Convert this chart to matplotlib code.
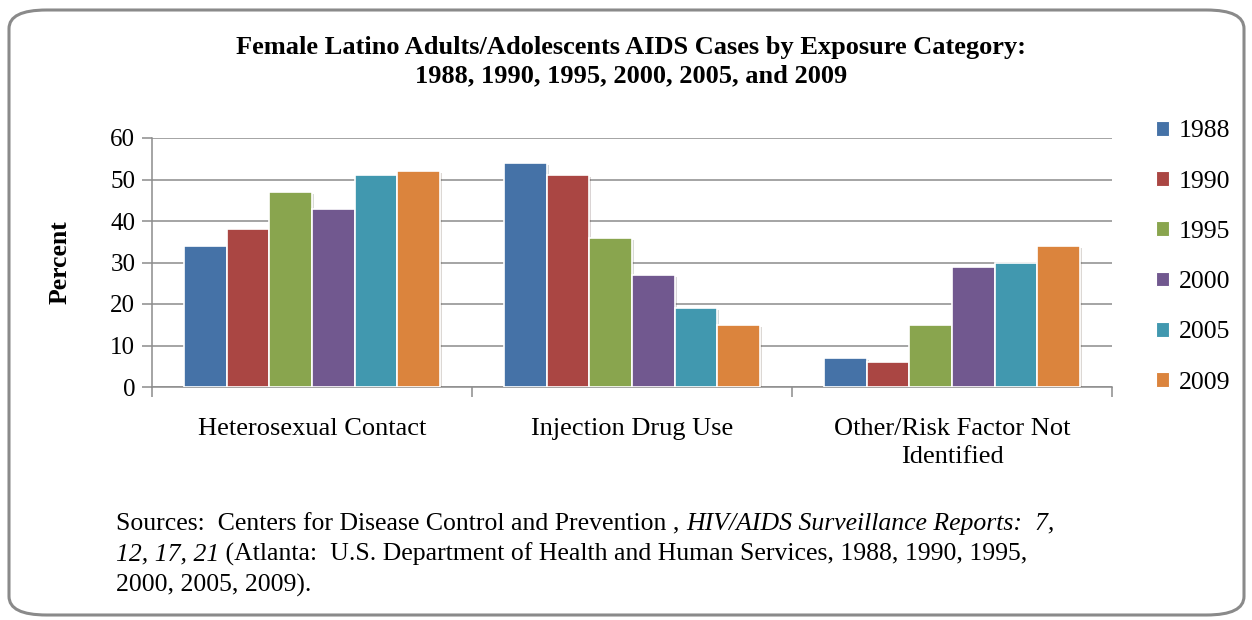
import matplotlib
matplotlib.use("Agg")
import matplotlib.pyplot as plt
import numpy as np
from matplotlib.patches import FancyBboxPatch, Patch
import matplotlib.patheffects as pe

categories = ["Heterosexual Contact", "Injection Drug Use", "Other/Risk Factor Not\nIdentified"]
years = ["1988", "1990", "1995", "2000", "2005", "2009"]
v1988 = [34, 54, 7]
v1990 = [38, 51, 6]
v1995 = [47, 36, 15]
v2000 = [43, 27, 29]
v2005 = [51, 19, 30]
v2009 = [52, 15, 34]
series = [v1988, v1990, v1995, v2000, v2005, v2009]
colors = ["#4572A7", "#AA4643", "#89A54E", "#71588F", "#4198AF", "#DB843D"]
yticks = [0, 10, 20, 30, 40, 50, 60]

plt.rcParams['font.family'] = ['Liberation Serif', 'DejaVu Serif']

W, H = 1252, 620
fig = plt.figure(figsize=(W / 100, H / 100), dpi=100)

# rounded border
border = FancyBboxPatch((9 / W, 5 / H), (1244 - 9) / W, (H - 10 - 5) / H,
                        boxstyle="round,pad=0,rounding_size=0.03",
                        transform=fig.transFigure, facecolor="white",
                        edgecolor="#8a8a8a", linewidth=2.2, zorder=-5)
fig.patches.append(border)

ax = fig.add_axes([152 / W, 1 - 387 / H, (1112 - 152) / W, (387 - 138) / H])
ax.set_facecolor("none")
ax.set_zorder(2)

n = len(series)
gap = 1.5
bw = 1.0 / (n + gap)
x = np.arange(len(categories))
for i, (vals, c, yr) in enumerate(zip(series, colors, years)):
    pos = x - 0.5 + bw * (gap / 2) + bw * (i + 0.5)
    ax.bar(pos, vals, width=bw, color=c, edgecolor="white", linewidth=1.2,
           zorder=3,
           path_effects=[pe.SimplePatchShadow(offset=(1.5, -1.5), alpha=0.18), pe.Normal()])

ax.set_xlim(-0.5, len(categories) - 0.5)
ax.set_ylim(0, 60)
ax.set_yticks(yticks)
ax.set_yticklabels([str(t) for t in yticks], fontsize=18)
ax.yaxis.grid(True, color="#8c8c8c", linewidth=1.1, zorder=0)
ax.set_axisbelow(True)

ax.set_xticks(np.arange(len(categories) + 1) - 0.5)
ax.set_xticklabels([])
ax.set_xticks(x, minor=True)
ax.set_xticklabels(categories, minor=True, fontsize=19, linespacing=1.38)
ax.tick_params(axis="x", which="major", length=7, width=1.1, color="#8c8c8c", direction="out")
ax.tick_params(axis="x", which="minor", length=0, pad=22)
ax.tick_params(axis="y", length=7, width=1.1, color="#8c8c8c", direction="out", pad=5)

for s in ["top", "right"]:
    ax.spines[s].set_visible(False)
for s in ["left", "bottom"]:
    ax.spines[s].set_color("#8c8c8c")
    ax.spines[s].set_linewidth(1.1)

ax.set_ylabel("Percent", fontsize=18.5, fontweight="bold")
ax.yaxis.set_label_coords(-(152 - 60) / (1112 - 152), 0.5)
ax.yaxis.label.set_va("center")

handles = [Patch(facecolor=c, edgecolor="white", linewidth=0.8) for c in colors]
leg = fig.legend(handles, years, loc="center left", bbox_to_anchor=(1156 / W, 1 - 257 / H),
                 frameon=False, fontsize=18.5, handlelength=0.5, handleheight=0.5,
                 handletextpad=0.4, labelspacing=1.1, borderpad=0, borderaxespad=0)

fig.text(631 / W, 1 - 62 / H,
         "Female Latino Adults/Adolescents AIDS Cases by Exposure Category:\n1988, 1990, 1995, 2000, 2005, and 2009",
         ha="center", va="center", fontsize=19, fontweight="bold", linespacing=1.28)

# sources text with mixed italic
fig.canvas.draw()
renderer = fig.canvas.get_renderer()
lines = [
    [("Sources:  Centers for Disease Control and Prevention , ", "normal"),
     ("HIV/AIDS Surveillance Reports:  7,", "italic")],
    [("12, 17, 21", "italic"),
     (" (Atlanta:  U.S. Department of Health and Human Services, 1988, 1990, 1995,", "normal")],
    [("2000, 2005, 2009).", "normal")],
]
y0 = 524
for li, segs in enumerate(lines):
    xpix = 116
    ypix = y0 + li * 30.5
    for txt, style in segs:
        t = fig.text(xpix / W, 1 - ypix / H, txt, fontsize=18.5, style=style,
                     ha="left", va="center")
        bb = t.get_window_extent(renderer=renderer)
        xpix += bb.width

fig.savefig("out.png", dpi=100)
